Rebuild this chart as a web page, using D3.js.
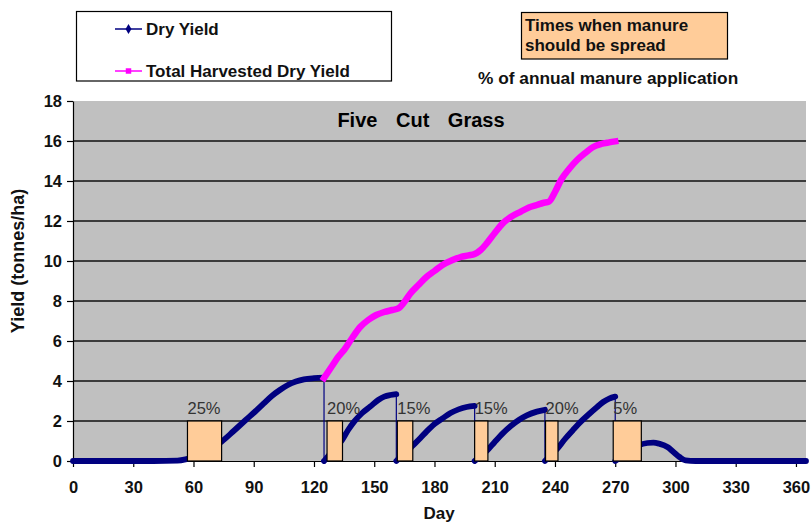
<!DOCTYPE html>
<html>
<head>
<meta charset="utf-8">
<script src="https://cdn.jsdelivr.net/npm/d3@7/dist/d3.min.js"></script>
<style>
  body { margin: 0; background: #fff; }
  svg { display: block; font-family: "Liberation Sans", Arial, sans-serif; }
</style>
</head>
<body>
<svg id="chart" width="811" height="525"></svg>
<script>
// Standing dry yield (t/ha) by day; a repeated day marks a cut back to zero
const dryDays = [0, 20, 40, 52, 56, 60, 65, 70, 74, 80, 86, 91, 95, 99, 103, 107, 111, 115, 120, 125,
  125, 128, 131, 134, 137, 140, 144, 148, 152, 155, 158, 161,
  161, 164, 167, 169, 173, 176, 180, 184, 188, 192, 196, 200,
  200, 203, 206, 210, 214, 218, 222, 226, 231, 235,
  235, 238, 241, 245, 249, 253, 257, 261, 264, 267, 270,
  270, 274, 278, 282, 286, 289, 292, 296, 299, 302, 305, 310, 330, 350, 365];
const dryYield = [0, 0, 0, 0.02, 0.08, 0.2, 0.45, 0.72, 0.97, 1.5, 2.05, 2.5, 2.88, 3.25, 3.55, 3.8, 3.97, 4.08, 4.14, 4.17,
  0, 0.35, 0.7, 1.05, 1.55, 1.97, 2.4, 2.72, 3.05, 3.22, 3.3, 3.34,
  0, 0.3, 0.55, 0.75, 1.15, 1.47, 1.85, 2.13, 2.4, 2.58, 2.7, 2.76,
  0, 0.25, 0.5, 0.95, 1.38, 1.75, 2.05, 2.28, 2.47, 2.56,
  0, 0.3, 0.6, 1.1, 1.55, 1.98, 2.35, 2.7, 2.95, 3.12, 3.22,
  0, 0.3, 0.55, 0.8, 0.9, 0.92, 0.86, 0.7, 0.45, 0.2, 0.03, 0, 0, 0, 0];

// Running total of harvested dry yield (t/ha)
const totalDays = [125, 129, 132, 135, 139, 143, 147, 151, 155, 159, 162, 165, 168, 172, 176, 180, 184, 189, 193, 197, 200,
  203, 206, 210, 214, 218, 223, 227, 231, 234, 237, 240, 243, 247, 251, 255, 259, 263, 267, 270];
const totalYield = [4.15, 4.75, 5.2, 5.55, 6.15, 6.7, 7.05, 7.3, 7.45, 7.55, 7.63, 7.95, 8.38, 8.8, 9.2, 9.5, 9.8, 10.05, 10.2, 10.28, 10.35,
  10.55, 10.88, 11.4, 11.88, 12.2, 12.47, 12.68, 12.8, 12.9, 12.97, 13.45, 14.05, 14.6, 15.05, 15.4, 15.7, 15.85, 15.93, 15.98];

// Manure spreading windows (days) and share of the annual application
const spreadStart = [57, 126.5, 161.5, 200, 235.3, 269];
const spreadEnd = [74, 134.2, 169.2, 206.6, 241.5, 283];
const spreadShare = ["25%", "20%", "15%", "15%", "20%", "5%"];
const spreadBand = 2; // height of the spreading markers on the yield axis

const xTicks = [0, 30, 60, 90, 120, 150, 180, 210, 240, 270, 300, 330, 360];
const yTicks = [0, 2, 4, 6, 8, 10, 12, 14, 16, 18];
const gridValues = [2, 4, 6, 8, 10, 12, 14, 16];

const svg = d3.select("#chart");
const x = d3.scaleLinear().domain([0, 365]).range([73, 806]);
const y = d3.scaleLinear().domain([0, 18]).range([461, 101]);

const navy = "#000080", magenta = "#FF00FF", peach = "#FFCC99";

// plot area
svg.append("rect").attr("x", x(0)).attr("y", y(18))
  .attr("width", x(365) - x(0)).attr("height", y(0) - y(18)).attr("fill", "#C0C0C0");

svg.append("g").selectAll("line").data(gridValues).join("line")
  .attr("x1", x(0)).attr("x2", x(365))
  .attr("y1", d => y(d)).attr("y2", d => y(d))
  .attr("stroke", "#111").attr("stroke-width", 1.3);

// axes
const yAxis = svg.append("g").attr("transform", `translate(${x(0)},0)`)
  .call(d3.axisLeft(y).tickValues(yTicks).tickSize(6).tickSizeOuter(0).tickPadding(5));
const xAxis = svg.append("g").attr("transform", `translate(0,${y(0)})`)
  .call(d3.axisBottom(x).tickValues(xTicks).tickSize(6).tickSizeOuter(0).tickPadding(14));
[yAxis, xAxis].forEach(g => {
  g.selectAll("path,line").attr("stroke", "#000").attr("stroke-width", 1.2);
  g.selectAll("text").attr("font-size", 16.5).attr("font-weight", "bold").attr("fill", "#111")
    .attr("font-family", '"Liberation Sans", Arial, sans-serif');
});

// dry yield: thin connecting line, heavy markers along each growth period
const dryPts = dryDays.map((d, i) => [d, dryYield[i]]);
const segments = [];
let cur = [];
dryPts.forEach((p, i) => {
  if (i > 0 && p[0] === dryPts[i - 1][0]) { segments.push(cur); cur = []; }
  cur.push(p);
});
segments.push(cur);

const smooth = d3.line().x(d => x(d[0])).y(d => y(d[1])).curve(d3.curveMonotoneX);
const straight = d3.line().x(d => x(d[0])).y(d => y(d[1]));

svg.append("path").attr("d", straight(dryPts)).attr("fill", "none")
  .attr("stroke", navy).attr("stroke-width", 1.2);
svg.append("g").selectAll("path").data(segments).join("path")
  .attr("d", smooth).attr("fill", "none").attr("stroke", navy)
  .attr("stroke-width", 5.8).attr("stroke-linecap", "round").attr("stroke-linejoin", "round");

// total harvested
const totalPts = totalDays.map((d, i) => [d, totalYield[i]]);
svg.append("path").attr("d", smooth(totalPts)).attr("fill", "none")
  .attr("stroke", magenta).attr("stroke-width", 6.5).attr("stroke-linecap", "square");

// spreading windows
svg.append("g").selectAll("rect").data(spreadStart).join("rect")
  .attr("x", d => x(d)).attr("y", y(spreadBand))
  .attr("width", (d, i) => x(spreadEnd[i]) - x(d)).attr("height", y(0) - y(spreadBand))
  .attr("fill", peach).attr("stroke", "#000").attr("stroke-width", 1.2);
svg.append("g").selectAll("text").data(spreadStart).join("text")
  .attr("x", d => x(d)).attr("y", y(spreadBand) - 7)
  .attr("font-size", 16.5).attr("fill", "#333").text((d, i) => spreadShare[i]);

// chart title inside the plot
svg.append("text").attr("x", 421).attr("y", 127).attr("text-anchor", "middle")
  .attr("font-size", 20).attr("font-weight", "bold").attr("word-spacing", 13)
  .attr("fill", "#000").text("Five Cut Grass");

// axis titles
svg.append("text").attr("transform", "translate(24,261) rotate(-90)").attr("text-anchor", "middle")
  .attr("font-size", 18).attr("font-weight", "bold").attr("fill", "#111").text("Yield (tonnes/ha)");
svg.append("text").attr("x", 439).attr("y", 519).attr("text-anchor", "middle")
  .attr("font-size", 17).attr("font-weight", "bold").attr("fill", "#111").text("Day");

// legend
const legend = svg.append("g");
legend.append("rect").attr("x", 76.5).attr("y", 11.5).attr("width", 315).attr("height", 69.5)
  .attr("fill", "#fff").attr("stroke", "#000").attr("stroke-width", 1.2);
const legendItems = [
  { label: "Dry Yield", color: navy, shape: d3.symbolDiamond, cy: 29 },
  { label: "Total Harvested Dry Yield", color: magenta, shape: d3.symbolSquare, cy: 71 }
];
legendItems.forEach(it => {
  legend.append("line").attr("x1", 115).attr("x2", 142).attr("y1", it.cy).attr("y2", it.cy)
    .attr("stroke", it.color).attr("stroke-width", 1.5);
  legend.append("path").attr("d", d3.symbol(it.shape, 30)())
    .attr("transform", `translate(128.5,${it.cy})`).attr("fill", it.color);
  legend.append("text").attr("x", 146).attr("y", it.cy + 6).attr("font-size", 17)
    .attr("font-weight", "bold").attr("fill", "#111").text(it.label);
});

// spreading note
svg.append("rect").attr("x", 521.5).attr("y", 12.5).attr("width", 206).attr("height", 46.5)
  .attr("fill", peach).attr("stroke", "#000").attr("stroke-width", 1.2);
svg.append("text").attr("x", 525).attr("y", 31).attr("font-size", 17).attr("font-weight", "bold")
  .attr("fill", "#111").text("Times when manure");
svg.append("text").attr("x", 525).attr("y", 51).attr("font-size", 17).attr("font-weight", "bold")
  .attr("fill", "#111").text("should be spread");
svg.append("text").attr("x", 478).attr("y", 84).attr("font-size", 17.3).attr("font-weight", "bold")
  .attr("fill", "#111").text("% of annual manure application");
</script>
</body>
</html>
